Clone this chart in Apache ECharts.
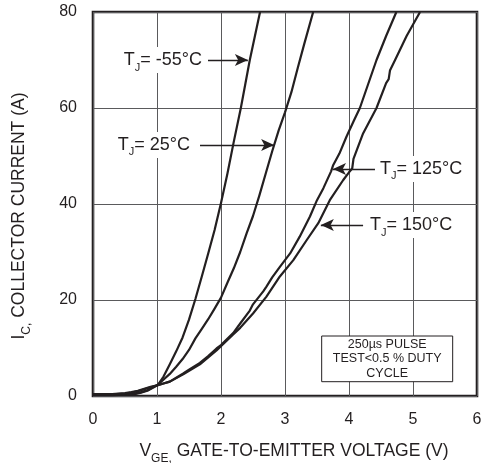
<!DOCTYPE html>
<html>
<head>
<meta charset="utf-8">
<title>Transfer Characteristics</title>
<script src="https://cdn.jsdelivr.net/npm/echarts@6/dist/echarts.min.js"></script>
<style>
  html, body { margin: 0; padding: 0; background: #fff; }
  #chart { width: 484px; height: 463px; }
</style>
</head>
<body>
<div id="chart"></div>
<script>
// Collector current vs gate-to-emitter voltage, one curve per junction temperature.
// Each array holds [VGE (V), IC (A)] pairs.
const xTicks = [0, 1, 2, 3, 4, 5, 6];
const yTicks = [0, 20, 40, 60, 80];

const curveM55 = [
  [0, 0.2], [0.3, 0.2], [0.5, 0.3], [0.65, 0.4], [0.75, 0.7], [0.85, 1.1],
  [0.95, 1.8], [1.02, 2.4], [1.1, 4.0], [1.2, 6.6], [1.3, 9.3], [1.4, 12.2],
  [1.5, 15.9], [1.6, 20.2], [1.7, 24.9], [1.8, 29.7], [1.9, 34.6], [2.0, 40.2],
  [2.1, 46.3], [2.2, 53.0], [2.31, 60], [2.38, 65], [2.45, 70], [2.53, 75], [2.61, 80]
];

const curve25 = [
  [0, 0.25], [0.3, 0.25], [0.5, 0.35], [0.65, 0.5], [0.75, 0.8], [0.85, 1.2],
  [0.95, 1.9], [1.02, 2.4], [1.1, 3.4], [1.2, 4.6], [1.3, 6.1], [1.4, 7.7],
  [1.5, 9.6], [1.6, 12.0], [1.7, 14.0], [1.8, 16.0], [1.9, 18.2], [2.0, 20.5],
  [2.1, 23.6], [2.2, 26.6], [2.3, 30.0], [2.4, 33.9], [2.5, 37.5], [2.6, 41.8],
  [2.7, 46.4], [2.8, 51.0], [2.9, 55.3], [3.0, 59.1], [3.1, 63.3],
  [3.2, 68.4], [3.3, 73.3], [3.44, 80]
];

const curve125 = [
  [0, 0.35], [0.3, 0.35], [0.5, 0.5], [0.6, 0.7], [0.7, 1.0], [0.8, 1.4],
  [0.9, 1.8], [1.0, 2.2], [1.1, 2.6], [1.2, 3.0], [1.3, 3.8], [1.41, 4.7],
  [1.5, 5.5], [1.67, 6.9], [1.8, 8.3], [1.93, 9.9], [2.0, 10.6], [2.19, 13.1],
  [2.3, 15.1], [2.45, 17.8], [2.5, 19.1], [2.66, 21.8], [2.71, 22.8], [2.8, 24.7],
  [2.92, 26.9], [3.08, 29.7], [3.23, 33.2], [3.39, 37.4], [3.5, 40.8], [3.6, 43.3],
  [3.72, 46.8], [3.75, 48.0], [3.85, 50.5], [3.96, 54], [4.07, 57.2], [4.17, 60],
  [4.3, 65.0], [4.43, 70], [4.58, 75], [4.74, 80]
];

const curve150 = [
  [0, 0.4], [0.3, 0.4], [0.5, 0.6], [0.6, 0.8], [0.7, 1.1], [0.8, 1.5],
  [0.9, 1.9], [1.0, 2.2], [1.1, 2.6], [1.2, 3.0], [1.41, 4.5], [1.67, 6.6],
  [1.93, 9.5], [2.19, 12.8], [2.3, 14.2], [2.5, 17.2], [2.71, 20.7], [2.92, 24.9],
  [3.13, 28.3], [3.34, 32.5], [3.52, 36], [3.7, 40.8], [3.91, 45], [4.0, 46.6],
  [4.05, 47.4], [4.07, 49.4], [4.22, 54.7], [4.43, 60], [4.58, 65.2], [4.62, 66.0],
  [4.64, 67.8], [4.72, 70], [4.9, 75], [5.11, 80]
];

const INK = '#231f20';
const GRIDC = '#5a5a5c';
const FONT = '"Liberation Sans", Arial, Helvetica, sans-serif';

// Callout arrows: label text on one side, arrowhead touching its curve.
function callout(temp, from, to, dist) {
  return {
    silent: true,
    animation: false,
    symbol: ['none', 'arrow'],
    symbolSize: [9, 13],
    lineStyle: { color: INK, width: 1.4, type: 'solid' },
    label: {
      show: true,
      position: 'start',
      distance: dist,
      formatter: '{t|T}{s|J}{t|= ' + temp + '°C}',
      backgroundColor: '#fff',
      padding: [0, 2, 0, 2],
      rich: {
        t: { fontSize: 18, color: INK, fontFamily: FONT },
        s: { fontSize: 11, color: INK, fontFamily: FONT, padding: [15, 0, 0, 0] }
      }
    },
    data: [[{ coord: from }, { coord: to }]]
  };
}

function curveSeries(name, data, mark) {
  return {
    name: name,
    type: 'line',
    data: data,
    showSymbol: false,
    symbol: 'none',
    smooth: false,
    animation: false,
    lineStyle: { color: INK, width: 2.2, join: 'round' },
    markLine: mark
  };
}

const chart = echarts.init(document.getElementById('chart'), null, { renderer: 'canvas' });

const series = [
  curveSeries('-55', curveM55, callout('-55', [1.797, 70], [2.42, 70], 4)),
  curveSeries('25', curve25, callout('25', [1.672, 52.3], [2.83, 52.3], 8)),
  curveSeries('125', curve125, callout('125', [4.406, 47.3], [3.75, 47.3], 3)),
  curveSeries('150', curve150, callout('150', [4.22, 35.6], [3.56, 35.6], 5))
];

// Test-condition note box in the lower right of the plot
series[0].markArea = {
  silent: true,
  animation: false,
  itemStyle: { color: '#fff', borderColor: INK, borderWidth: 1 },
  label: {
    show: true,
    position: 'inside',
    formatter: '250µs PULSE\nTEST<0.5 % DUTY\nCYCLE',
    color: INK,
    fontFamily: FONT,
    fontSize: 12.5,
    lineHeight: 14.7,
    align: 'center'
  },
  data: [[{ coord: [3.573, 12.5] }, { coord: [5.62, 2.98] }]]
};

chart.setOption({
  animation: false,
  backgroundColor: '#fff',
  grid: {
    left: 93, top: 12, width: 384, height: 384,
    outerBoundsMode: 'none',
    containLabel: false,
    show: true,
    backgroundColor: 'transparent',
    borderColor: INK,
    borderWidth: 2.6
  },
  xAxis: {
    type: 'value',
    min: xTicks[0],
    max: xTicks[xTicks.length - 1],
    interval: 1,
    axisLine: { show: false },
    axisTick: { show: false },
    splitLine: { show: true, lineStyle: { color: GRIDC, width: 1 } },
    axisLabel: { color: INK, fontFamily: FONT, fontSize: 16, margin: 16 },
    name: '{t|V}{s|GE,}{t| GATE-TO-EMITTER VOLTAGE (V)}',
    nameLocation: 'middle',
    nameGap: 41,
    nameTextStyle: {
      padding: [0, 0, 0, 18],
      rich: {
        t: { fontSize: 17.5, color: INK, fontFamily: FONT },
        s: { fontSize: 12, color: INK, fontFamily: FONT, padding: [16, 0, 0, 0] }
      }
    }
  },
  yAxis: {
    type: 'value',
    min: yTicks[0],
    max: yTicks[yTicks.length - 1],
    interval: 20,
    axisLabel: { color: INK, fontFamily: FONT, fontSize: 16, margin: 16 },
    axisLine: { show: false },
    axisTick: { show: false },
    splitLine: { show: true, lineStyle: { color: GRIDC, width: 1 } },
    name: '{t|I}{s|C,}{t| COLLECTOR CURRENT (A)}',
    nameLocation: 'middle',
    nameGap: 60,
    nameTextStyle: {
      padding: [0, 24, 0, 0],
      rich: {
        t: { fontSize: 17.5, color: INK, fontFamily: FONT },
        s: { fontSize: 12, color: INK, fontFamily: FONT, padding: [16, 0, 0, 0] }
      }
    }
  },
  series: series
});
</script>
</body>
</html>
